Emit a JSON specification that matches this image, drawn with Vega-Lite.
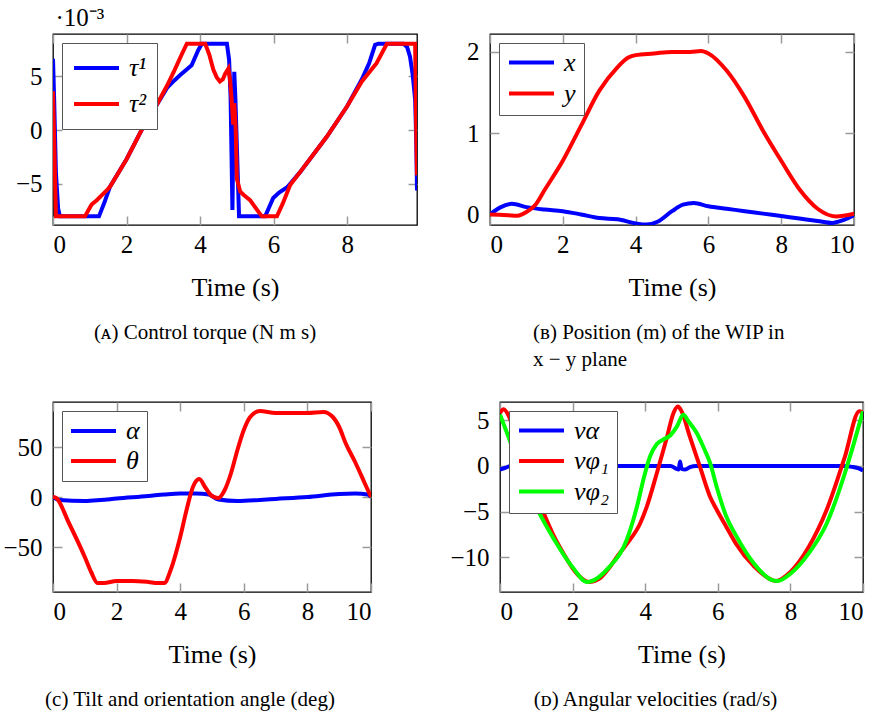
{
  "$schema": "https://vega.github.io/schema/vega-lite/v6.json",
  "autosize": {"type": "none"},
  "padding": {"left": 53, "top": 34, "right": 825, "bottom": 681},
  "background": "white",
  "config": {
    "font": "Liberation Serif",
    "view": {"stroke": "#000", "strokeWidth": 1.3},
    "axis": {"labelFont": "Liberation Serif", "labelFontSize": 25, "labelColor": "#000", "titleFont": "Liberation Serif", "titleFontSize": 26, "titleFontWeight": "normal", "titleColor": "#000", "grid": false, "domain": false, "tickColor": "#9a9a9a", "tickWidth": 1.5, "tickSize": -9},
    "axisX": {"labelPadding": 16, "titlePadding": 17},
    "axisY": {"labelPadding": 20},
    "title": {"font": "Liberation Serif", "fontSize": 21, "fontWeight": "normal", "color": "#000", "frame": "group"},
    "legend": {"title": null, "orient": "top-left", "offset": 9, "symbolType": "stroke", "symbolStrokeWidth": 4, "symbolSize": 2025, "labelFont": "Liberation Serif", "labelFontSize": 26, "labelFontStyle": "italic", "labelColor": "#000", "strokeColor": "#555", "fillColor": "#fff", "labelOffset": 8}
  },
  "datasets": {
    "torque": [
      {"t": 0, "v": 6.6, "s": "τ¹"}, {"t": 0.03, "v": 3, "s": "τ¹"}, {"t": 0.08, "v": -4, "s": "τ¹"}, {"t": 0.14, "v": -7.3, "s": "τ¹"}, {"t": 0.19, "v": -8, "s": "τ¹"},
      {"t": 1.25, "v": -8, "s": "τ¹"}, {"t": 1.4, "v": -6.7, "s": "τ¹"}, {"t": 1.55, "v": -5.25, "s": "τ¹"}, {"t": 2.0, "v": -2.7, "s": "τ¹"}, {"t": 2.41, "v": 0, "s": "τ¹"},
      {"t": 2.8, "v": 2.2, "s": "τ¹"}, {"t": 3.1, "v": 3.9, "s": "τ¹"}, {"t": 3.3, "v": 4.6, "s": "τ¹"}, {"t": 3.46, "v": 5.1, "s": "τ¹"}, {"t": 3.77, "v": 6.0, "s": "τ¹"},
      {"t": 3.95, "v": 7.4, "s": "τ¹"}, {"t": 4.05, "v": 8, "s": "τ¹"}, {"t": 4.73, "v": 8, "s": "τ¹"}, {"t": 4.79, "v": 6.5, "s": "τ¹"}, {"t": 4.83, "v": 3, "s": "τ¹"},
      {"t": 4.88, "v": -7.4, "s": "τ¹"}, {"t": 4.9, "v": -2, "s": "τ¹"}, {"t": 4.93, "v": 5.4, "s": "τ¹"}, {"t": 4.96, "v": 3, "s": "τ¹"}, {"t": 5.06, "v": -8, "s": "τ¹"},
      {"t": 5.77, "v": -8, "s": "τ¹"}, {"t": 5.99, "v": -6.3, "s": "τ¹"}, {"t": 6.15, "v": -5.8, "s": "τ¹"}, {"t": 6.37, "v": -5.3, "s": "τ¹"}, {"t": 6.72, "v": -3.9, "s": "τ¹"},
      {"t": 7.45, "v": -0.6, "s": "τ¹"}, {"t": 8.0, "v": 2.2, "s": "τ¹"}, {"t": 8.4, "v": 4.7, "s": "τ¹"}, {"t": 8.6, "v": 6.2, "s": "τ¹"}, {"t": 8.76, "v": 7.9, "s": "τ¹"},
      {"t": 8.85, "v": 8, "s": "τ¹"}, {"t": 9.53, "v": 8, "s": "τ¹"}, {"t": 9.63, "v": 7.7, "s": "τ¹"}, {"t": 9.71, "v": 6.8, "s": "τ¹"}, {"t": 9.78, "v": 5.2, "s": "τ¹"},
      {"t": 9.85, "v": 2.8, "s": "τ¹"}, {"t": 9.88, "v": -1, "s": "τ¹"}, {"t": 9.9, "v": -5.6, "s": "τ¹"},
      {"t": 0, "v": 3.6, "s": "τ²"}, {"t": 0.04, "v": -2, "s": "τ²"}, {"t": 0.08, "v": -8, "s": "τ²"}, {"t": 0.87, "v": -8, "s": "τ²"}, {"t": 0.95, "v": -7.5, "s": "τ²"},
      {"t": 1.05, "v": -6.9, "s": "τ²"}, {"t": 1.19, "v": -6.5, "s": "τ²"}, {"t": 1.46, "v": -5.6, "s": "τ²"}, {"t": 1.55, "v": -5.25, "s": "τ²"}, {"t": 2.0, "v": -2.7, "s": "τ²"},
      {"t": 2.41, "v": 0, "s": "τ²"}, {"t": 2.8, "v": 2.2, "s": "τ²"}, {"t": 3.1, "v": 4.1, "s": "τ²"}, {"t": 3.3, "v": 5.5, "s": "τ²"}, {"t": 3.5, "v": 7.0, "s": "τ²"},
      {"t": 3.64, "v": 8, "s": "τ²"}, {"t": 4.14, "v": 8, "s": "τ²"}, {"t": 4.25, "v": 7.0, "s": "τ²"}, {"t": 4.36, "v": 5.6, "s": "τ²"}, {"t": 4.45, "v": 4.9, "s": "τ²"},
      {"t": 4.54, "v": 4.5, "s": "τ²"}, {"t": 4.62, "v": 4.7, "s": "τ²"}, {"t": 4.68, "v": 5.2, "s": "τ²"}, {"t": 4.77, "v": 5.7, "s": "τ²"}, {"t": 4.82, "v": 4.5, "s": "τ²"},
      {"t": 4.86, "v": 2.8, "s": "τ²"}, {"t": 4.9, "v": 0.5, "s": "τ²"}, {"t": 4.93, "v": 2.5, "s": "τ²"}, {"t": 4.97, "v": 0, "s": "τ²"}, {"t": 5.0, "v": -4.5, "s": "τ²"},
      {"t": 5.09, "v": -5.7, "s": "τ²"}, {"t": 5.18, "v": -6.0, "s": "τ²"}, {"t": 5.36, "v": -6.5, "s": "τ²"}, {"t": 5.55, "v": -7.4, "s": "τ²"}, {"t": 5.68, "v": -8, "s": "τ²"},
      {"t": 6.09, "v": -8, "s": "τ²"}, {"t": 6.25, "v": -6.8, "s": "τ²"}, {"t": 6.45, "v": -5.1, "s": "τ²"}, {"t": 6.72, "v": -3.9, "s": "τ²"}, {"t": 7.45, "v": -0.6, "s": "τ²"},
      {"t": 8.0, "v": 2.2, "s": "τ²"}, {"t": 8.4, "v": 4.5, "s": "τ²"}, {"t": 8.8, "v": 6.2, "s": "τ²"}, {"t": 9.08, "v": 8, "s": "τ²"}, {"t": 9.85, "v": 8, "s": "τ²"},
      {"t": 9.87, "v": 2, "s": "τ²"}, {"t": 9.9, "v": -4.2, "s": "τ²"}
    ],
    "position": [
      {"t": 0, "v": 0, "s": "x"}, {"t": 0.3, "v": 0.09, "s": "x"}, {"t": 0.6, "v": 0.13, "s": "x"}, {"t": 1, "v": 0.09, "s": "x"}, {"t": 1.5, "v": 0.06, "s": "x"},
      {"t": 2, "v": 0.04, "s": "x"}, {"t": 2.5, "v": 0.0, "s": "x"}, {"t": 3, "v": -0.045, "s": "x"}, {"t": 3.5, "v": -0.06, "s": "x"}, {"t": 4, "v": -0.11, "s": "x"},
      {"t": 4.3, "v": -0.125, "s": "x"}, {"t": 4.6, "v": -0.09, "s": "x"}, {"t": 5, "v": 0.04, "s": "x"}, {"t": 5.3, "v": 0.12, "s": "x"}, {"t": 5.6, "v": 0.14, "s": "x"},
      {"t": 6, "v": 0.1, "s": "x"}, {"t": 6.5, "v": 0.07, "s": "x"}, {"t": 7, "v": 0.04, "s": "x"}, {"t": 7.5, "v": 0.01, "s": "x"}, {"t": 8, "v": -0.02, "s": "x"},
      {"t": 8.5, "v": -0.05, "s": "x"}, {"t": 9, "v": -0.08, "s": "x"}, {"t": 9.4, "v": -0.105, "s": "x"}, {"t": 9.7, "v": -0.07, "s": "x"}, {"t": 10, "v": -0.01, "s": "x"},
      {"t": 0, "v": 0, "s": "y"}, {"t": 0.5, "v": -0.01, "s": "y"}, {"t": 0.75, "v": -0.015, "s": "y"}, {"t": 1, "v": 0.03, "s": "y"}, {"t": 1.25, "v": 0.12, "s": "y"},
      {"t": 1.5, "v": 0.3, "s": "y"}, {"t": 2, "v": 0.66, "s": "y"}, {"t": 2.5, "v": 1.09, "s": "y"}, {"t": 3, "v": 1.52, "s": "y"}, {"t": 3.5, "v": 1.81, "s": "y"},
      {"t": 3.8, "v": 1.93, "s": "y"}, {"t": 4, "v": 1.96, "s": "y"}, {"t": 4.5, "v": 1.98, "s": "y"}, {"t": 5, "v": 2.0, "s": "y"}, {"t": 5.5, "v": 2.0, "s": "y"},
      {"t": 5.8, "v": 2.01, "s": "y"}, {"t": 6, "v": 1.98, "s": "y"}, {"t": 6.5, "v": 1.77, "s": "y"}, {"t": 7, "v": 1.44, "s": "y"}, {"t": 7.5, "v": 1.03, "s": "y"},
      {"t": 8, "v": 0.66, "s": "y"}, {"t": 8.5, "v": 0.31, "s": "y"}, {"t": 9, "v": 0.07, "s": "y"}, {"t": 9.5, "v": -0.025, "s": "y"}, {"t": 10, "v": 0.01, "s": "y"}
    ],
    "angle": [
      {"t": 0, "v": 0, "s": "α"}, {"t": 0.2, "v": -3, "s": "α"}, {"t": 1, "v": -4, "s": "α"}, {"t": 1.5, "v": -3, "s": "α"}, {"t": 2, "v": -1.5, "s": "α"},
      {"t": 3, "v": 1, "s": "α"}, {"t": 3.5, "v": 2.5, "s": "α"}, {"t": 4, "v": 3.5, "s": "α"}, {"t": 4.5, "v": 3.5, "s": "α"}, {"t": 4.9, "v": 2.5, "s": "α"},
      {"t": 5.2, "v": -2.5, "s": "α"}, {"t": 5.8, "v": -4, "s": "α"}, {"t": 6.5, "v": -3, "s": "α"}, {"t": 7, "v": -2, "s": "α"}, {"t": 8, "v": 0, "s": "α"},
      {"t": 9, "v": 3, "s": "α"}, {"t": 9.5, "v": 3.5, "s": "α"}, {"t": 9.9, "v": 2.5, "s": "α"}, {"t": 10, "v": 0, "s": "α"},
      {"t": 0, "v": 0, "s": "θ"}, {"t": 0.1, "v": -1, "s": "θ"}, {"t": 0.5, "v": -26, "s": "θ"}, {"t": 1, "v": -60, "s": "θ"}, {"t": 1.2, "v": -75, "s": "θ"},
      {"t": 1.4, "v": -86, "s": "θ"}, {"t": 1.6, "v": -86, "s": "θ"}, {"t": 2, "v": -84, "s": "θ"}, {"t": 2.5, "v": -84, "s": "θ"}, {"t": 3, "v": -85, "s": "θ"},
      {"t": 3.3, "v": -86, "s": "θ"}, {"t": 3.5, "v": -86, "s": "θ"}, {"t": 3.7, "v": -73, "s": "θ"}, {"t": 4, "v": -40, "s": "θ"}, {"t": 4.2, "v": -13, "s": "θ"},
      {"t": 4.4, "v": 10, "s": "θ"}, {"t": 4.6, "v": 18, "s": "θ"}, {"t": 4.8, "v": 9, "s": "θ"}, {"t": 5, "v": 1, "s": "θ"}, {"t": 5.2, "v": -1, "s": "θ"},
      {"t": 5.4, "v": 7, "s": "θ"}, {"t": 5.6, "v": 24, "s": "θ"}, {"t": 5.8, "v": 47, "s": "θ"}, {"t": 6, "v": 67, "s": "θ"}, {"t": 6.2, "v": 80, "s": "θ"},
      {"t": 6.5, "v": 86, "s": "θ"}, {"t": 7, "v": 84, "s": "θ"}, {"t": 7.5, "v": 84, "s": "θ"}, {"t": 8, "v": 84, "s": "θ"}, {"t": 8.5, "v": 85, "s": "θ"},
      {"t": 8.8, "v": 80, "s": "θ"}, {"t": 9, "v": 70, "s": "θ"}, {"t": 9.2, "v": 54, "s": "θ"}, {"t": 9.5, "v": 35, "s": "θ"}, {"t": 9.8, "v": 14, "s": "θ"},
      {"t": 10, "v": 0, "s": "θ"}
    ],
    "velocity": [
      {"t": 0, "v": -0.4, "s": "vα"}, {"t": 0.15, "v": -0.2, "s": "vα"}, {"t": 0.3, "v": 0, "s": "vα"}, {"t": 4.7, "v": 0, "s": "vα"}, {"t": 4.85, "v": -0.3, "s": "vα"},
      {"t": 4.92, "v": -0.4, "s": "vα"}, {"t": 4.96, "v": 0.5, "s": "vα"}, {"t": 5.0, "v": -0.3, "s": "vα"}, {"t": 5.1, "v": -0.4, "s": "vα"}, {"t": 5.25, "v": -0.1, "s": "vα"},
      {"t": 5.4, "v": 0, "s": "vα"}, {"t": 9.5, "v": 0, "s": "vα"}, {"t": 9.7, "v": -0.1, "s": "vα"}, {"t": 9.9, "v": -0.3, "s": "vα"}, {"t": 10, "v": -0.5, "s": "vα"},
      {"t": 0, "v": 5.8, "s": "vφ₁"}, {"t": 0.1, "v": 6.2, "s": "vφ₁"}, {"t": 0.25, "v": 5.4, "s": "vφ₁"}, {"t": 0.5, "v": 2.3, "s": "vφ₁"}, {"t": 0.75, "v": -0.9, "s": "vφ₁"},
      {"t": 1, "v": -3.3, "s": "vφ₁"}, {"t": 1.25, "v": -5.6, "s": "vφ₁"}, {"t": 1.5, "v": -7.8, "s": "vφ₁"}, {"t": 1.75, "v": -9.6, "s": "vφ₁"}, {"t": 2, "v": -11.2, "s": "vφ₁"},
      {"t": 2.25, "v": -12.3, "s": "vφ₁"}, {"t": 2.45, "v": -12.7, "s": "vφ₁"}, {"t": 2.75, "v": -12.3, "s": "vφ₁"}, {"t": 3, "v": -11.2, "s": "vφ₁"}, {"t": 3.25, "v": -9.8, "s": "vφ₁"},
      {"t": 3.5, "v": -8.5, "s": "vφ₁"}, {"t": 3.86, "v": -6.3, "s": "vφ₁"}, {"t": 4.04, "v": -4.5, "s": "vφ₁"}, {"t": 4.32, "v": -0.8, "s": "vφ₁"}, {"t": 4.59, "v": 3.0, "s": "vφ₁"},
      {"t": 4.78, "v": 5.8, "s": "vφ₁"}, {"t": 4.9, "v": 6.5, "s": "vφ₁"}, {"t": 5.0, "v": 6.0, "s": "vφ₁"}, {"t": 5.23, "v": 3.2, "s": "vφ₁"}, {"t": 5.51, "v": -0.1, "s": "vφ₁"},
      {"t": 5.79, "v": -3.4, "s": "vφ₁"}, {"t": 5.97, "v": -4.8, "s": "vφ₁"}, {"t": 6.24, "v": -6.7, "s": "vφ₁"}, {"t": 6.5, "v": -8.5, "s": "vφ₁"}, {"t": 7, "v": -11, "s": "vφ₁"},
      {"t": 7.5, "v": -12.5, "s": "vφ₁"}, {"t": 7.6, "v": -12.6, "s": "vφ₁"}, {"t": 8, "v": -11.6, "s": "vφ₁"}, {"t": 8.5, "v": -8.9, "s": "vφ₁"}, {"t": 9, "v": -4.8, "s": "vφ₁"},
      {"t": 9.5, "v": 1, "s": "vφ₁"}, {"t": 9.9, "v": 6, "s": "vφ₁"}, {"t": 10, "v": 5.8, "s": "vφ₁"},
      {"t": 0, "v": 5.6, "s": "vφ₂"}, {"t": 0.25, "v": 3.0, "s": "vφ₂"}, {"t": 0.5, "v": 0.2, "s": "vφ₂"}, {"t": 0.75, "v": -2.3, "s": "vφ₂"}, {"t": 1, "v": -4.5, "s": "vφ₂"},
      {"t": 1.25, "v": -6.4, "s": "vφ₂"}, {"t": 1.5, "v": -8.1, "s": "vφ₂"}, {"t": 2, "v": -11.1, "s": "vφ₂"}, {"t": 2.4, "v": -12.7, "s": "vφ₂"}, {"t": 3, "v": -11.1, "s": "vφ₂"},
      {"t": 3.49, "v": -8.1, "s": "vφ₂"}, {"t": 3.77, "v": -4.5, "s": "vφ₂"}, {"t": 3.95, "v": -1.5, "s": "vφ₂"}, {"t": 4.13, "v": 1.0, "s": "vφ₂"}, {"t": 4.32, "v": 2.4, "s": "vφ₂"},
      {"t": 4.5, "v": 2.9, "s": "vφ₂"}, {"t": 4.68, "v": 3.3, "s": "vφ₂"}, {"t": 4.87, "v": 4.3, "s": "vφ₂"}, {"t": 5.05, "v": 5.6, "s": "vφ₂"}, {"t": 5.19, "v": 4.9, "s": "vφ₂"},
      {"t": 5.42, "v": 3.6, "s": "vφ₂"}, {"t": 5.6, "v": 2.1, "s": "vφ₂"}, {"t": 5.79, "v": 0.3, "s": "vφ₂"}, {"t": 5.97, "v": -2.3, "s": "vφ₂"}, {"t": 6.24, "v": -5.6, "s": "vφ₂"},
      {"t": 6.5, "v": -7.6, "s": "vφ₂"}, {"t": 7, "v": -10.7, "s": "vφ₂"}, {"t": 7.5, "v": -12.5, "s": "vφ₂"}, {"t": 7.65, "v": -12.6, "s": "vφ₂"}, {"t": 8, "v": -11.8, "s": "vφ₂"},
      {"t": 8.5, "v": -9.6, "s": "vφ₂"}, {"t": 9, "v": -6.3, "s": "vφ₂"}, {"t": 9.5, "v": -0.8, "s": "vφ₂"}, {"t": 9.75, "v": 2.5, "s": "vφ₂"}, {"t": 10, "v": 6, "s": "vφ₂"}
    ]
  },
  "bounds": "flush",
  "spacing": 368,
  "resolve": {"scale": {"color": "independent"}, "legend": {"color": "independent"}},
  "vconcat": [
    {
      "bounds": "flush",
      "spacing": 73,
      "resolve": {"scale": {"color": "independent"}, "legend": {"color": "independent"}},
      "hconcat": [
        {
          "width": 364, "height": 191,
          "title": {"text": "(ᴀ) Control torque (N m s)", "orient": "bottom", "anchor": "middle", "dx": -30, "offset": 22},
          "data": {"name": "torque"},
          "layer": [
            {
              "mark": {"type": "line", "strokeWidth": 4, "clip": true},
              "encoding": {
                "x": {"field": "t", "type": "quantitative", "scale": {"domain": [0, 9.9], "nice": false, "zero": false}, "axis": {"orient": "bottom", "title": "Time (s)", "values": [0, 2, 4, 6, 8]}},
                "y": {"field": "v", "type": "quantitative", "scale": {"domain": [-8.8, 8.9], "nice": false, "zero": false}, "axis": {"orient": "left", "values": [-5, 0, 5], "title": "·10⁻³", "titleAngle": 0, "titleAlign": "left", "titleBaseline": "alphabetic", "titleX": 2, "titleY": -9, "titleFontSize": 25}},
                "color": {"field": "s", "type": "nominal", "scale": {"domain": ["τ¹", "τ²"], "range": ["#0000ff", "#ff0000"]}, "legend": {"padding": 10, "clipHeight": 30, "rowPadding": 6}}
              }
            },
            {
              "mark": {"type": "line", "opacity": 0},
              "encoding": {
                "x": {"field": "t", "type": "quantitative", "scale": {"domain": [0, 9.9], "nice": false, "zero": false}, "axis": {"orient": "top", "labels": false, "title": null, "values": [0, 2, 4, 6, 8]}},
                "y": {"field": "v", "type": "quantitative", "scale": {"domain": [-8.8, 8.9], "nice": false, "zero": false}, "axis": {"orient": "right", "labels": false, "title": null, "values": [-5, 0, 5]}},
                "detail": {"field": "s"}
              }
            }
          ]
        },
        {
          "width": 364, "height": 191,
          "title": {"text": ["(ʙ) Position (m) of the WIP in", "x − y plane"], "orient": "bottom", "anchor": "start", "dx": 43, "offset": 22, "lineHeight": 27},
          "data": {"name": "position"},
          "layer": [
            {
              "mark": {"type": "line", "strokeWidth": 4, "clip": true, "interpolate": "monotone"},
              "encoding": {
                "x": {"field": "t", "type": "quantitative", "scale": {"domain": [0, 10], "nice": false, "zero": false}, "axis": {"orient": "bottom", "title": "Time (s)", "values": [0, 2, 4, 6, 8, 10]}},
                "y": {"field": "v", "type": "quantitative", "scale": {"domain": [-0.13, 2.22], "nice": false, "zero": false}, "axis": {"orient": "left", "values": [0, 1, 2], "title": null}},
                "color": {"field": "s", "type": "nominal", "scale": {"domain": ["x", "y"], "range": ["#0000ff", "#ff0000"]}, "legend": {"padding": 8, "clipHeight": 23, "rowPadding": 4}}
              }
            },
            {
              "mark": {"type": "line", "opacity": 0},
              "encoding": {
                "x": {"field": "t", "type": "quantitative", "scale": {"domain": [0, 10], "nice": false, "zero": false}, "axis": {"orient": "top", "labels": false, "title": null, "values": [0, 2, 4, 6, 8, 10]}},
                "y": {"field": "v", "type": "quantitative", "scale": {"domain": [-0.13, 2.22], "nice": false, "zero": false}, "axis": {"orient": "right", "labels": false, "title": null, "values": [0, 1, 2]}},
                "detail": {"field": "s"}
              }
            }
          ]
        }
      ]
    },
    {
      "bounds": "flush",
      "spacing": 129,
      "resolve": {"scale": {"color": "independent"}, "legend": {"color": "independent"}},
      "hconcat": [
        {
          "width": 318, "height": 190,
          "title": {"text": "(c) Tilt and orientation angle (deg)", "orient": "bottom", "anchor": "middle", "dx": -22, "offset": 22},
          "data": {"name": "angle"},
          "layer": [
            {
              "mark": {"type": "line", "strokeWidth": 4, "clip": true, "interpolate": "monotone"},
              "encoding": {
                "x": {"field": "t", "type": "quantitative", "scale": {"domain": [0, 10], "nice": false, "zero": false}, "axis": {"orient": "bottom", "title": "Time (s)", "values": [0, 2, 4, 6, 8, 10]}},
                "y": {"field": "v", "type": "quantitative", "scale": {"domain": [-95, 95], "nice": false, "zero": false}, "axis": {"orient": "left", "values": [-50, 0, 50], "title": null}},
                "color": {"field": "s", "type": "nominal", "scale": {"domain": ["α", "θ"], "range": ["#0000ff", "#ff0000"]}, "legend": {"padding": 7, "clipHeight": 26, "rowPadding": 4}}
              }
            },
            {
              "mark": {"type": "line", "opacity": 0},
              "encoding": {
                "x": {"field": "t", "type": "quantitative", "scale": {"domain": [0, 10], "nice": false, "zero": false}, "axis": {"orient": "top", "labels": false, "title": null, "values": [0, 2, 4, 6, 8, 10]}},
                "y": {"field": "v", "type": "quantitative", "scale": {"domain": [-95, 95], "nice": false, "zero": false}, "axis": {"orient": "right", "labels": false, "title": null, "values": [-50, 0, 50]}},
                "detail": {"field": "s"}
              }
            }
          ]
        },
        {
          "width": 363, "height": 190,
          "title": {"text": "(ᴅ) Angular velocities (rad/s)", "orient": "bottom", "anchor": "middle", "dx": -26, "offset": 22},
          "data": {"name": "velocity"},
          "layer": [
            {
              "mark": {"type": "line", "strokeWidth": 4, "clip": true, "interpolate": "monotone"},
              "encoding": {
                "x": {"field": "t", "type": "quantitative", "scale": {"domain": [0, 10], "nice": false, "zero": false}, "axis": {"orient": "bottom", "title": "Time (s)", "values": [0, 2, 4, 6, 8, 10]}},
                "y": {"field": "v", "type": "quantitative", "scale": {"domain": [-13.8, 7], "nice": false, "zero": false}, "axis": {"orient": "left", "values": [-10, -5, 0, 5], "title": null}},
                "color": {"field": "s", "type": "nominal", "scale": {"domain": ["vα", "vφ₁", "vφ₂"], "range": ["#0000ff", "#ff0000", "#00ff00"]}, "legend": {"padding": 8, "clipHeight": 23, "rowPadding": 3.5}}
              }
            },
            {
              "mark": {"type": "line", "opacity": 0},
              "encoding": {
                "x": {"field": "t", "type": "quantitative", "scale": {"domain": [0, 10], "nice": false, "zero": false}, "axis": {"orient": "top", "labels": false, "title": null, "values": [0, 2, 4, 6, 8, 10]}},
                "y": {"field": "v", "type": "quantitative", "scale": {"domain": [-13.8, 7], "nice": false, "zero": false}, "axis": {"orient": "right", "labels": false, "title": null, "values": [-10, -5, 0, 5]}},
                "detail": {"field": "s"}
              }
            }
          ]
        }
      ]
    }
  ]
}
